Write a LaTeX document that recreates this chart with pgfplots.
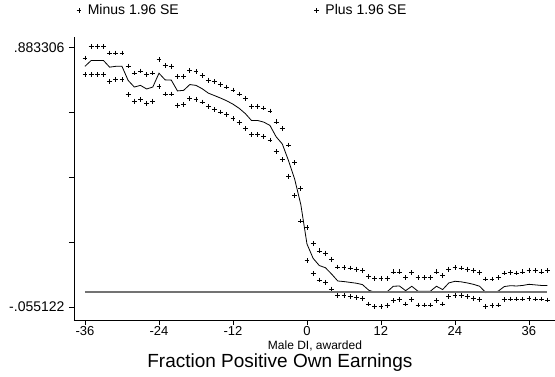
\documentclass[border=0pt]{standalone}
\usepackage{pgfplots}
\usepackage{pgfplotstable}
\usepackage{fontspec}
\setmainfont{Liberation Sans}
\pgfplotsset{compat=1.18}

% month relative to award, lower bound, estimate, upper bound
\pgfplotstableread{
m lo mid hi
-36 0.786 0.816 0.846
-35 0.786 0.837 0.888
-34 0.786 0.837 0.888
-33 0.786 0.837 0.888
-32 0.762 0.813 0.864
-31 0.768 0.816 0.864
-30 0.768 0.816 0.864
-29 0.713 0.765 0.817
-28 0.690 0.741 0.792
-27 0.695 0.747 0.799
-26 0.682 0.734 0.786
-25 0.690 0.741 0.792
-24 0.742 0.791 0.840
-23 0.716 0.767 0.818
-22 0.716 0.766 0.816
-21 0.675 0.727 0.778
-20 0.678 0.729 0.780
-19 0.699 0.750 0.800
-18 0.697 0.747 0.797
-17 0.687 0.735 0.783
-16 0.671 0.719 0.766
-15 0.660 0.710 0.760
-14 0.651 0.701 0.751
-13 0.641 0.691 0.741
-12 0.627 0.679 0.730
-11 0.612 0.664 0.716
-10 0.590 0.645 0.700
-9 0.569 0.620 0.671
-8 0.569 0.620 0.671
-7 0.562 0.614 0.665
-6 0.549 0.602 0.654
-5 0.507 0.561 0.615
-4 0.479 0.535 0.590
-3 0.418 0.475 0.531
-2 0.348 0.408 0.467
-1 0.256 0.316 0.375
0 0.112 0.173 0.233
1 0.067 0.121 0.176
2 0.043 0.095 0.148
3 0.034 0.087 0.140
4 0.010 0.064 0.118
5 -0.012 0.039 0.090
6 -0.014 0.037 0.088
7 -0.017 0.034 0.086
8 -0.020 0.031 0.082
9 -0.024 0.026 0.076
10 -0.044 0.006 0.056
11 -0.053 -0.002 0.049
12 -0.053 -0.002 0.049
13 -0.050 0.000 0.049
14 -0.032 0.020 0.072
15 -0.029 0.021 0.072
16 -0.044 0.004 0.052
17 -0.029 0.020 0.070
18 -0.048 0.002 0.052
19 -0.048 0.002 0.052
20 -0.048 0.002 0.052
21 -0.032 0.020 0.072
22 -0.044 0.008 0.060
23 -0.017 0.032 0.082
24 -0.012 0.038 0.088
25 -0.014 0.036 0.086
26 -0.018 0.032 0.082
27 -0.023 0.027 0.078
28 -0.029 0.020 0.070
29 -0.053 -0.003 0.046
30 -0.050 -0.002 0.046
31 -0.048 0.002 0.052
32 -0.029 0.019 0.068
33 -0.026 0.022 0.070
34 -0.026 0.021 0.068
35 -0.026 0.023 0.072
36 -0.024 0.027 0.078
37 -0.026 0.025 0.076
38 -0.026 0.023 0.072
39 -0.030 0.023 0.076
}\earnings

\begin{document}
\begin{tikzpicture}
\useasboundingbox (0,0) rectangle (555pt,377pt);
\begin{axis}[
  at={(74pt,57pt)}, anchor=south west,
  scale only axis, width=481pt, height=283.3pt,
  xmin=-37.78, xmax=40.22,
  ymin=-0.1021, ymax=0.9232,
  axis x line=bottom, axis y line=left,
  axis line style={-, black, line width=0.8pt},
  tick align=outside, major tick length=5pt,
  tick style={black, line width=0.8pt},
  xtick={-36,-24,-12,0,12,24,36},
  xticklabels={-36,-24,-12,0,12,24,36},
  ytick={-0.055122,0.179485,0.414092,0.648699,0.883306},
  yticklabels={-.055122,,,,.883306},
  xticklabel style={font=\fontsize{13}{15}\selectfont, anchor=base, inner sep=0pt, yshift=-11pt},
  yticklabel style={font=\fontsize{14}{16}\selectfont, anchor=east, xshift=-1pt},
  xlabel={Male DI, awarded},
  xlabel style={font=\fontsize{12}{14}\selectfont, at={(axis description cs:0.501,-0.1059)}, anchor=base, inner sep=0pt},
  title={Fraction Positive Own Earnings},
  title style={font=\fontsize{19}{22}\selectfont, at={(axis description cs:0.428,-0.1878)}, anchor=base, inner sep=0pt},
  legend columns=2,
  legend style={draw=none, fill=none, at={(axis description cs:0.0054,1.092)}, anchor=west,
    font=\fontsize{14}{16}\selectfont, inner sep=0pt, outer sep=0pt,
    /tikz/every odd column/.append style={column sep=4.4pt},
    /tikz/every even column/.append style={column sep=133.4pt}},
  legend image code/.code={\draw[#1] plot coordinates {(0pt,0pt)};},
  clip=false,
]
\addplot[only marks, mark=+, mark size=2.4pt, mark options={line width=0.7pt}, black] table[x=m, y=lo] {\earnings};
\addlegendentry{Minus 1.96 SE}
\addplot[only marks, mark=+, mark size=2.4pt, mark options={line width=0.7pt}, black] table[x=m, y=hi] {\earnings};
\addlegendentry{Plus 1.96 SE}
\addplot[forget plot, black, line width=0.8pt, no marks] table[x=m, y=mid] {\earnings};
\addplot[forget plot, black!55, line width=1.5pt, no marks] coordinates {(-36,0) (39,0)};
\end{axis}
\end{tikzpicture}
\end{document}
